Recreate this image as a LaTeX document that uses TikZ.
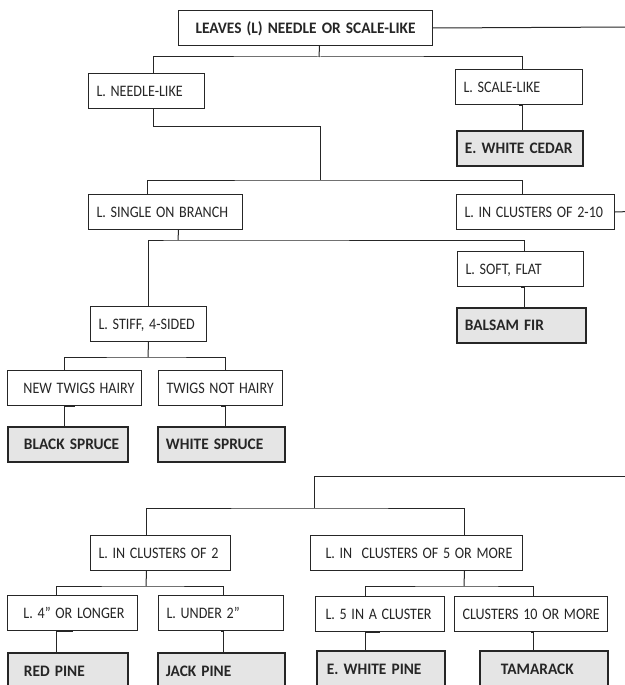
\documentclass[tikz,border=0pt]{standalone}
\usepackage{fontspec}
\setmainfont{Carlito}
\usepackage{graphicx}
\usepackage{xcolor}
\usepackage{tikz}
\usetikzlibrary{shapes,arrows,positioning,calc}
% condensed look of the key labels
\newcommand{\narrow}[1]{\scalebox{0.88}[1]{#1}}
\newcommand{\narrowb}[1]{\scalebox{0.96}[1]{#1}}

\begin{document}
\begin{tikzpicture}[x=1pt, y=-1pt]
        \tikzstyle{block} = [rectangle, draw=black!85, line width=1pt, fill=white, anchor=north west, align=left, inner xsep=8pt, inner ysep=0pt, minimum height=35pt, text height=10.5pt, text depth=0pt, font=\fontsize{16}{18}\selectfont, text=black!85]
        \tikzstyle{tree} = [block, fill=black!10, line width=1.9pt, font=\fontsize{16}{18}\selectfont\bfseries]
        \tikzstyle{line} = [draw, black!85, line width=1pt]

        \fill[white] (0,0) rectangle (624,685);
        \useasboundingbox (0,0) rectangle (624,685);

        % Upper key
        \node [block, text width=238pt, align=center, font=\fontsize{16}{18}\selectfont\bfseries] (top) at (178,10) {\narrowb{LEAVES (L) NEEDLE OR SCALE-LIKE}};
        \node [block, text width=100pt] (needle) at (88,73) {\narrow{L. NEEDLE-LIKE}};
        \node [block, text width=111pt] (scale) at (455,69) {\narrow{L. SCALE-LIKE}};
        \node [tree, text width=110pt] (cedar) at (456,130) {\narrowb{E. WHITE CEDAR}};
        \node [block, text width=138pt] (single) at (88,194) {\narrow{L. SINGLE ON BRANCH}};
        \node [block, text width=142pt] (c210) at (456,194) {\narrow{L. IN CLUSTERS OF 2-10}};
        \node [block, text width=110pt] (soft) at (457,251) {\narrow{L. SOFT, FLAT}};
        \node [tree, text width=113pt] (balsam) at (456,307) {\narrowb{BALSAM FIR}};
        \node [block, text width=100pt] (stiff) at (90,306) {\narrow{L. STIFF, 4-SIDED}};
        \node [block, text width=118pt] (hairy) at (7,370) {\hspace*{8pt}\narrow{NEW TWIGS HAIRY}};
        \node [block, text width=108pt] (nothairy) at (158,370) {\narrow{TWIGS NOT HAIRY}};
        \node [tree, text width=104pt] (black) at (7,426) {\hspace*{8pt}\narrowb{BLACK SPRUCE}};
        \node [tree, text width=111pt] (white) at (157,426) {\narrowb{WHITE SPRUCE}};

        % Lower key
        \node [block, text width=124pt] (two) at (90,535) {\narrow{L. IN CLUSTERS OF 2}};
        \node [block, text width=196pt] (five) at (310,535) {\hspace*{7pt}\narrow{L. IN~ CLUSTERS OF 5 OR MORE}};
        \node [block, text width=114pt] (longer) at (7,595) {\hspace*{8pt}\narrow{L. 4” OR LONGER}};
        \node [block, text width=109pt] (under) at (158,595) {\narrow{L. UNDER 2”}};
        \node [block, text width=113pt] (fivein) at (315,596) {\hspace*{2pt}\narrow{L. 5 IN A CLUSTER}};
        \node [block, text width=137pt] (ten) at (454,596) {\narrow{CLUSTERS 10 OR MORE}};
        \node [tree, minimum height=36pt, text width=104pt] (red) at (7,652) {\hspace*{8pt}\narrowb{RED PINE}};
        \node [tree, minimum height=36pt, text width=111pt] (jack) at (157,652) {\narrowb{JACK PINE}};
        \node [tree, minimum height=36pt, text width=112pt] (ewp) at (316,650) {\hspace*{2pt}\narrowb{E. WHITE PINE}};
        \node [tree, minimum height=36pt, text width=112pt] (tam) at (479,650) {\hspace*{13pt}\narrowb{TAMARACK}};

        % Bends and splits
        \coordinate (k1) at (319,57);
        \coordinate (k2) at (320,126);
        \coordinate (k3) at (320,180);
        \coordinate (k4) at (178,240);
        \coordinate (k5) at (148,357);
        \coordinate (k6) at (314,476);
        \coordinate (k7) at (314,508);
        \coordinate (k8) at (146,586);
        \coordinate (k9) at (464,586);
        % Lines running off the page
        \coordinate (o1) at (630,27);
        \coordinate (o2) at (630,211.5);
        \coordinate (o3) at (630,476);

        % Paths
        \path [line] ([xshift=14pt]top.south) -- (k1);
        \path [line] ([xshift=7pt]needle.north) |- (k1) -| ([xshift=3.5pt]scale.north);
        \path [line] (top.east) -- (o1);
        \path [line] ([xshift=3pt]cedar.north) |- (scale.south);
        \path [line] ([xshift=7pt]needle.south) |- (k2) -- (k3);
        \path [line] ([xshift=-18pt]single.north) |- (k3) -| ([xshift=-13pt]c210.north);
        \path [line] (c210.east) -- (o2);
        \path [line] ([xshift=13pt]single.south) -- (k4);
        \path [line] (stiff.north) |- (k4) -| ([xshift=4pt]soft.north);
        \path [line] ([xshift=3.5pt]balsam.north) |- (soft.south);
        \path [line] (stiff.south) -- (k5);
        \path [line] ([xshift=-10pt]hairy.north) |- (k5) -| ([xshift=5pt]nothairy.north);
        \path [line] ([xshift=-3pt]black.north) |- (hairy.south);
        \path [line] ([xshift=4.5pt]white.north) |- (nothairy.south);
        \path [line] (o3) -- (k6) -- (k7);
        \path [line] ([xshift=-14pt]two.north) |- (k7) -| ([xshift=48pt]five.north);
        \path [line] ([xshift=-14pt]two.south) -- (k8);
        \path [line] ([xshift=-16pt]longer.north) |- (k8) -| ([xshift=2.5pt]under.north);
        \path [line] ([xshift=48pt]five.south) -- (k9);
        \path [line] ([xshift=-14.5pt]fivein.north) |- (k9) -| ([xshift=2.5pt]ten.north);
        \path [line] ([xshift=-11pt]red.north) |- (longer.south);
        \path [line] ([xshift=2.5pt]jack.north) |- (under.south);
        \path [line] ([xshift=-15pt]ewp.north) |- (fivein.south);
        \path [line] ([xshift=-10pt]tam.north) |- (ten.south);
    \end{tikzpicture}
\end{document}
